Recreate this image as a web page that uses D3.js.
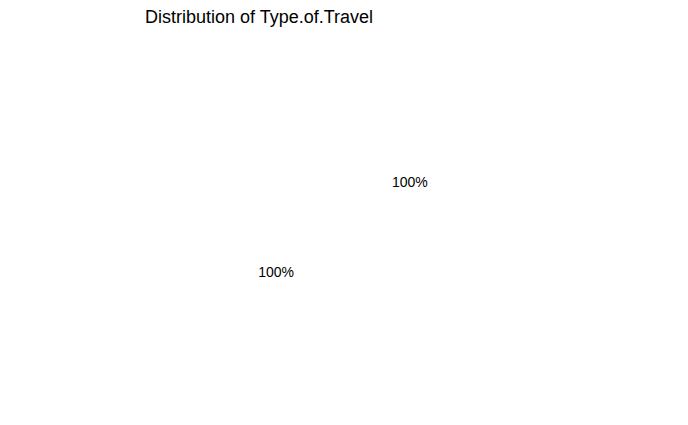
<!DOCTYPE html>
<html><head><meta charset="utf-8">
<script src="https://cdn.jsdelivr.net/npm/d3@7"></script>
<style>body{margin:0;background:#fff}</style>
</head><body>
<svg id="c" width="688" height="425"></svg>
<script>
const categories = ["Business travel", "Personal Travel"];
const shares = [1, 1];
const labels = ["100%", "100%"];
const title = "Distribution of Type.of.Travel";

const W = 688, H = 425, cx = 343, cy = 227;
const svg = d3.select("#c");
svg.append("rect").attr("width", W).attr("height", H).attr("fill", "#fff");

svg.append("text").attr("x", 145).attr("y", 23)
  .attr("font-family", "Liberation Sans, Arial, sans-serif").attr("font-size", 18)
  .attr("fill", "#000").text(title);

const start = -34 * Math.PI / 180;
const pie = d3.pie().sort(null).startAngle(start).endAngle(start + 2 * Math.PI);
const arcs = pie(shares);
const labelArc = d3.arc().innerRadius(80.7).outerRadius(80.7);
const g = svg.append("g").attr("transform", `translate(${cx},${cy})`);
g.selectAll("path").data(arcs).join("path")
  .attr("d", d3.arc().innerRadius(0).outerRadius(0)).attr("fill", "none");
g.selectAll("text").data(arcs).join("text")
  .attr("transform", d => `translate(${labelArc.centroid(d)})`)
  .attr("text-anchor", "middle").attr("dy", "0.35em")
  .attr("font-family", "Liberation Sans, Arial, sans-serif").attr("font-size", 14)
  .attr("fill", "#000").text((d, i) => labels[i]);
</script>
</body></html>
